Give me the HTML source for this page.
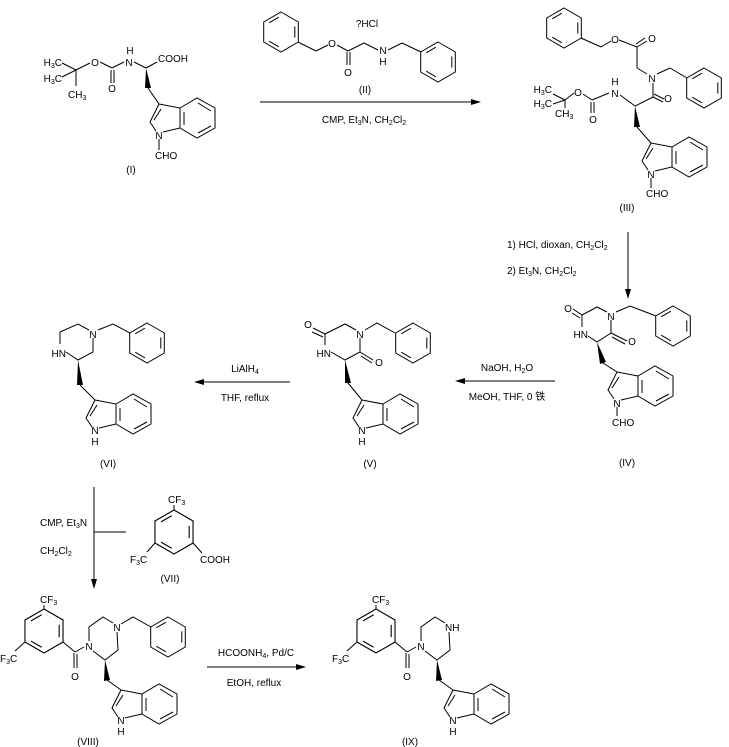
<!DOCTYPE html>
<html><head><meta charset="utf-8"><style>
html,body{margin:0;padding:0;background:#fff}
svg{display:block}
text{font-family:"Liberation Sans","Noto Sans CJK SC",sans-serif;font-size:10px;fill:#000}
.s{font-size:7px}
</style></head><body>
<svg width="729" height="747" viewBox="0 0 729 747" xmlns="http://www.w3.org/2000/svg">
<defs>
<g id="bz" fill="none" stroke="#000" stroke-width="1">
<polygon points="0,-20 17.3,-10 17.3,10 0,20 -17.3,10 -17.3,-10"/>
<line x1="-11.8" y1="-9.2" x2="-2.1" y2="-14.8"/>
<line x1="13.8" y1="-5.6" x2="13.8" y2="5.6"/>
<line x1="-2.1" y1="14.8" x2="-11.8" y2="9.2"/>
</g>
<g id="ind" fill="none" stroke="#000" stroke-width="1">
<polyline points="0,0 -9,18 -3,27"/>
<polyline points="4,28 21,24 21,4 0,0"/>
<polygon points="21,4 38,-6 56,4 56,24 38,34 21,24"/>
<line x1="-5" y1="16" x2="2" y2="5"/>
<line x1="39" y1="-1" x2="52" y2="7"/>
<line x1="52" y1="22" x2="39" y2="29"/>
<line x1="25" y1="8" x2="25" y2="21"/>
</g>
</defs>
<g stroke="#000" stroke-width="1" fill="none">
<line x1="76" y1="70" x2="62" y2="63"/><line x1="76" y1="70" x2="62" y2="77"/><line x1="76" y1="70" x2="76" y2="86"/>
<line x1="76" y1="70" x2="90" y2="63"/><line x1="100" y1="62" x2="112" y2="68"/>
<line x1="111" y1="70" x2="111" y2="83"/><line x1="114" y1="70" x2="114" y2="83"/>
<line x1="112" y1="68" x2="124" y2="62"/><line x1="134" y1="62" x2="146" y2="68"/><line x1="146" y1="68" x2="157" y2="62"/>
<line x1="148" y1="88" x2="159" y2="104"/>
<line x1="159" y1="139" x2="159" y2="150"/>
<line x1="298" y1="42" x2="316" y2="51"/><line x1="316" y1="51" x2="328" y2="45"/><line x1="337" y1="45" x2="348" y2="51"/>
<line x1="347" y1="52" x2="347" y2="65"/><line x1="350" y1="52" x2="350" y2="65"/>
<line x1="348" y1="51" x2="364" y2="43"/><line x1="364" y1="43" x2="378" y2="50"/><line x1="388" y1="50" x2="402" y2="43"/><line x1="402" y1="43" x2="421" y2="52"/>
<line x1="260" y1="102" x2="474" y2="102"/>
<line x1="581" y1="38" x2="601" y2="47"/><line x1="601" y1="47" x2="611" y2="41"/><line x1="619" y1="40" x2="637" y2="47"/>
<line x1="637" y1="47" x2="647" y2="41"/><line x1="636" y1="44" x2="645" y2="38"/>
<line x1="637" y1="47" x2="637" y2="68"/><line x1="637" y1="68" x2="647" y2="74"/>
<line x1="657" y1="74" x2="670" y2="68"/><line x1="670" y1="68" x2="687" y2="78"/>
<line x1="653" y1="83" x2="653" y2="97"/><line x1="653" y1="97" x2="663" y2="102"/><line x1="654" y1="94" x2="664" y2="99"/>
<line x1="653" y1="97" x2="635" y2="106"/><line x1="635" y1="106" x2="620" y2="95"/>
<line x1="609" y1="93" x2="592" y2="100"/><line x1="591" y1="102" x2="591" y2="113"/><line x1="594" y1="102" x2="594" y2="113"/>
<line x1="592" y1="100" x2="583" y2="94"/><line x1="574" y1="93" x2="565" y2="100"/>
<line x1="565" y1="100" x2="553" y2="94"/><line x1="565" y1="100" x2="553" y2="104"/><line x1="565" y1="100" x2="565" y2="108"/>
<line x1="637" y1="127" x2="651" y2="143"/>
<line x1="651" y1="178" x2="651" y2="188"/>
<line x1="628" y1="232" x2="628" y2="293"/>
<line x1="573" y1="309" x2="582" y2="315"/><line x1="572" y1="313" x2="580" y2="318"/>
<polyline points="582,315 597,307 607,312"/><polyline points="611,320 611,333 597,342 588,336"/><line x1="582" y1="315" x2="582" y2="327"/>
<line x1="611" y1="333" x2="627" y2="341"/><line x1="612" y1="337" x2="625" y2="344"/>
<polyline points="616,312 630,306 656,316"/>
<line x1="603" y1="363" x2="617" y2="372"/>
<line x1="617" y1="407" x2="617" y2="416"/>
<line x1="461" y1="381" x2="555" y2="381"/>
<line x1="313" y1="328" x2="325" y2="334"/><line x1="312" y1="332" x2="323" y2="337"/>
<polyline points="325,334 345,324 356,330"/><polyline points="360,338 360,352 345,360 331,352"/><line x1="325" y1="334" x2="325" y2="345"/>
<line x1="360" y1="352" x2="373" y2="360"/><line x1="361" y1="356" x2="372" y2="363"/>
<polyline points="365,330 377,323 395,333"/>
<line x1="348" y1="383" x2="362" y2="400"/>
<line x1="199" y1="382" x2="290" y2="382"/>
<polyline points="60,332 78,324 89,330"/><polyline points="93,338 93,352 78,360 66,352"/><line x1="60" y1="332" x2="60" y2="344"/>
<polyline points="98,330 113,324 130,333"/>
<line x1="80" y1="385" x2="95" y2="400"/>
<line x1="94" y1="487" x2="94" y2="583"/><line x1="94" y1="532" x2="126" y2="532"/>
<line x1="174" y1="510" x2="174" y2="505"/><line x1="155" y1="543" x2="147" y2="552"/><line x1="193" y1="543" x2="202" y2="553"/>
<line x1="44" y1="609" x2="44" y2="605"/><line x1="25" y1="642" x2="15" y2="651"/><line x1="63" y1="642" x2="75" y2="652"/>
<line x1="74" y1="653" x2="74" y2="668"/><line x1="77" y1="654" x2="77" y2="668"/><line x1="75" y1="652" x2="84" y2="647"/>
<polyline points="89,641 89,627 103,617 113,623"/><polyline points="117,632 118,650 105,660 93,651"/>
<polyline points="121,624 133,617 151,627"/>
<line x1="107" y1="680" x2="121" y2="690"/>
<line x1="207" y1="667" x2="302" y2="667"/>
<line x1="376" y1="609" x2="376" y2="605"/><line x1="357" y1="642" x2="347" y2="651"/><line x1="395" y1="642" x2="407" y2="652"/>
<line x1="406" y1="653" x2="406" y2="668"/><line x1="409" y1="654" x2="409" y2="668"/><line x1="407" y1="652" x2="416" y2="647"/>
<polyline points="421,641 421,627 435,617 445,623"/><polyline points="449,632 450,650 437,660 425,651"/>
<line x1="439" y1="680" x2="453" y2="690"/>
</g>
<use href="#bz" transform="translate(281,32)"/>
<use href="#bz" transform="translate(438,62)"/>
<use href="#bz" transform="translate(564,28)"/>
<use href="#bz" transform="translate(704,88)"/>
<use href="#bz" transform="translate(673,326)"/>
<use href="#bz" transform="translate(413,343)"/>
<use href="#bz" transform="translate(147,343)"/>
<use href="#bz" transform="translate(174,532) scale(1.1)"/>
<use href="#bz" transform="translate(44,631) scale(1.1)"/>
<use href="#bz" transform="translate(168,637)"/>
<use href="#bz" transform="translate(376,631) scale(1.1)"/>
<use href="#ind" transform="translate(159,104)"/>
<use href="#ind" transform="translate(651,143)"/>
<use href="#ind" transform="translate(617,372)"/>
<use href="#ind" transform="translate(362,400)"/>
<use href="#ind" transform="translate(95,400)"/>
<use href="#ind" transform="translate(121,690)"/>
<use href="#ind" transform="translate(453,690)"/>
<g fill="#000">
<polygon points="146,68 145,88 151,88"/>
<polygon points="635,106 634,127 640,127"/>
<polygon points="597,342 600,364 606,362"/>
<polygon points="345,360 345,383 351,383"/>
<polygon points="78,360 77,385 83,385"/>
<polygon points="105,660 104,681 110,680"/>
<polygon points="437,660 436,681 442,680"/>
<polygon points="481,102 471,99 471,105"/>
<polygon points="628,299 625,289 631,289"/>
<polygon points="455,381 465,378 465,384"/>
<polygon points="194,382 204,379 204,385"/>
<polygon points="94,589 91,579 97,579"/>
<polygon points="306,667 296,664 296,670"/>
</g>
<text x="62" y="66" text-anchor="end">H<tspan class="s" dy="2">3</tspan><tspan dy="-2">C</tspan></text>
<text x="62" y="82" text-anchor="end">H<tspan class="s" dy="2">3</tspan><tspan dy="-2">C</tspan></text>
<text x="68" y="98">CH<tspan class="s" dy="2">3</tspan></text>
<text x="95" y="66" text-anchor="middle">O</text>
<text x="112" y="92" text-anchor="middle">O</text>
<text x="129" y="66" text-anchor="middle">N</text>
<text x="130" y="54" text-anchor="middle">H</text>
<text x="158" y="62">COOH</text>
<text x="159" y="139" text-anchor="middle">N</text>
<text x="155" y="159">CHO</text>
<text x="131" y="173" text-anchor="middle">(I)</text>
<text x="367" y="27" text-anchor="middle">?HCl</text>
<text x="332" y="47" text-anchor="middle">O</text>
<text x="348" y="76" text-anchor="middle">O</text>
<text x="383" y="54" text-anchor="middle">N</text>
<text x="383" y="65" text-anchor="middle">H</text>
<text x="365" y="93" text-anchor="middle">(II)</text>
<text x="364" y="123" text-anchor="middle">CMP, Et<tspan class="s" dy="2">3</tspan><tspan dy="-2">N, CH</tspan><tspan class="s" dy="2">2</tspan><tspan dy="-2">Cl</tspan><tspan class="s" dy="2">2</tspan></text>
<text x="615" y="43" text-anchor="middle">O</text>
<text x="652" y="42" text-anchor="middle">O</text>
<text x="652" y="82" text-anchor="middle">N</text>
<text x="668" y="102" text-anchor="middle">O</text>
<text x="615" y="97" text-anchor="middle">N</text>
<text x="615" y="85" text-anchor="middle">H</text>
<text x="578" y="96" text-anchor="middle">O</text>
<text x="593" y="123" text-anchor="middle">O</text>
<text x="552" y="93" text-anchor="end">H<tspan class="s" dy="2">3</tspan><tspan dy="-2">C</tspan></text>
<text x="552" y="107" text-anchor="end">H<tspan class="s" dy="2">3</tspan><tspan dy="-2">C</tspan></text>
<text x="555" y="117">CH<tspan class="s" dy="2">3</tspan></text>
<text x="651" y="178" text-anchor="middle">N</text>
<text x="646" y="197">CHO</text>
<text x="627" y="211" text-anchor="middle">(III)</text>
<text x="507" y="248">1) HCl, dioxan, CH<tspan class="s" dy="2">2</tspan><tspan dy="-2">Cl</tspan><tspan class="s" dy="2">2</tspan></text>
<text x="507" y="274">2) Et<tspan class="s" dy="2">3</tspan><tspan dy="-2">N, CH</tspan><tspan class="s" dy="2">2</tspan><tspan dy="-2">Cl</tspan><tspan class="s" dy="2">2</tspan></text>
<text x="568" y="312" text-anchor="middle">O</text>
<text x="611" y="320" text-anchor="middle">N</text>
<text x="588" y="338" text-anchor="end">HN</text>
<text x="632" y="345" text-anchor="middle">O</text>
<text x="617" y="407" text-anchor="middle">N</text>
<text x="612" y="426">CHO</text>
<text x="627" y="466" text-anchor="middle">(IV)</text>
<text x="507" y="371" text-anchor="middle">NaOH, H<tspan class="s" dy="2">2</tspan><tspan dy="-2">O</tspan></text>
<text x="507" y="400" text-anchor="middle">MeOH, THF, 0 铁</text>
<text x="308" y="328" text-anchor="middle">O</text>
<text x="360" y="338" text-anchor="middle">N</text>
<text x="331" y="357" text-anchor="end">HN</text>
<text x="379" y="366" text-anchor="middle">O</text>
<text x="362" y="434" text-anchor="middle">N</text>
<text x="362" y="445" text-anchor="middle">H</text>
<text x="370" y="467" text-anchor="middle">(V)</text>
<text x="245" y="372" text-anchor="middle">LiAlH<tspan class="s" dy="2">4</tspan></text>
<text x="245" y="401" text-anchor="middle">THF, reflux</text>
<text x="93" y="338" text-anchor="middle">N</text>
<text x="66" y="357" text-anchor="end">HN</text>
<text x="95" y="434" text-anchor="middle">N</text>
<text x="95" y="445" text-anchor="middle">H</text>
<text x="108" y="467" text-anchor="middle">(VI)</text>
<text x="40" y="526">CMP, Et<tspan class="s" dy="2">3</tspan><tspan dy="-2">N</tspan></text>
<text x="40" y="554">CH<tspan class="s" dy="2">2</tspan><tspan dy="-2">Cl</tspan><tspan class="s" dy="2">2</tspan></text>
<text x="168" y="503">CF<tspan class="s" dy="2">3</tspan></text>
<text x="130" y="563">F<tspan class="s" dy="2">3</tspan><tspan dy="-2">C</tspan></text>
<text x="200" y="563">COOH</text>
<text x="170" y="582" text-anchor="middle">(VII)</text>
<text x="40" y="603">CF<tspan class="s" dy="2">3</tspan></text>
<text x="0" y="662">F<tspan class="s" dy="2">3</tspan><tspan dy="-2">C</tspan></text>
<text x="75" y="680" text-anchor="middle">O</text>
<text x="89" y="650" text-anchor="middle">N</text>
<text x="117" y="631" text-anchor="middle">N</text>
<text x="121" y="724" text-anchor="middle">N</text>
<text x="121" y="735" text-anchor="middle">H</text>
<text x="88" y="745" text-anchor="middle">(VIII)</text>
<text x="256" y="656" text-anchor="middle">HCOONH<tspan class="s" dy="2">4</tspan><tspan dy="-2">, Pd/C</tspan></text>
<text x="254" y="686" text-anchor="middle">EtOH, reflux</text>
<text x="372" y="603">CF<tspan class="s" dy="2">3</tspan></text>
<text x="332" y="662">F<tspan class="s" dy="2">3</tspan><tspan dy="-2">C</tspan></text>
<text x="407" y="680" text-anchor="middle">O</text>
<text x="421" y="650" text-anchor="middle">N</text>
<text x="445" y="631">NH</text>
<text x="453" y="724" text-anchor="middle">N</text>
<text x="453" y="735" text-anchor="middle">H</text>
<text x="410" y="745" text-anchor="middle">(IX)</text>
</svg>
</body></html>
